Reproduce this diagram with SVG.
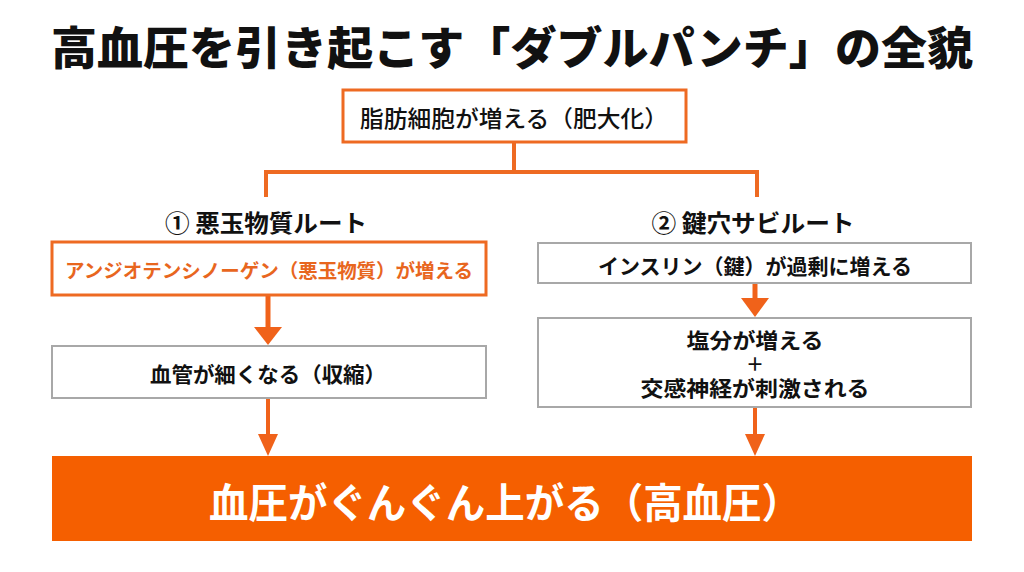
<svg xmlns="http://www.w3.org/2000/svg" width="1024" height="572" viewBox="0 0 1024 572">
<defs>
<style>
.t{font-family:"Noto Sans CJK JP","Noto Sans",sans-serif;text-anchor:middle;dominant-baseline:central}
.box{fill:#fff;stroke:#a8a8a8;stroke-width:2}
.obox{fill:#fff;stroke:#EE6A22;stroke-width:3}
.ln{stroke:#EE6A22;stroke-width:4;fill:none}
.ar{fill:#F0621A}
</style>
</defs>
<rect width="1024" height="572" fill="#fff"/>
<text class="t" x="512" y="45" font-size="45" font-weight="900" fill="#111" textLength="922" lengthAdjust="spacingAndGlyphs">高血圧を引き起こす「ダブルパンチ」の全貌</text>
<g id="connectors">
<path class="ln" d="M514,142 V172 M266,172 H757 M266,170 V197 M757,170 V197"/>
<path d="M268,295 V329" stroke="#F0621A" stroke-width="5"/>
<path class="ar" d="M254,327 H282 L268,345 Z"/>
<path d="M268,398 V438" stroke="#F0621A" stroke-width="4"/>
<path class="ar" d="M258,434 H278 L268,456 Z"/>
<path d="M755,283 V301" stroke="#F0621A" stroke-width="5"/>
<path class="ar" d="M741,298 H769 L755,317 Z"/>
<path d="M755,407 V438" stroke="#F0621A" stroke-width="4"/>
<path class="ar" d="M745,434 H765 L755,456 Z"/>
</g>
<g id="n-top">
<rect class="obox" x="343" y="90" width="343" height="52"/>
<text class="t" x="514" y="117" font-size="23" font-weight="500" fill="#111" textLength="308" lengthAdjust="spacingAndGlyphs">脂肪細胞が増える（肥大化）</text>
</g>
<g id="lbl-left"><text class="t" x="266" y="221" font-size="24" font-weight="700" fill="#111" textLength="202" lengthAdjust="spacingAndGlyphs">① 悪玉物質ルート</text></g>
<g id="lbl-right"><text class="t" x="753" y="221" font-size="24" font-weight="700" fill="#111" textLength="203" lengthAdjust="spacingAndGlyphs">② 鍵穴サビルート</text></g>
<g id="n-l1">
<rect class="obox" x="52" y="242" width="434" height="53"/>
<text class="t" x="269" y="269" font-size="19" font-weight="700" fill="#E8661E" textLength="408" lengthAdjust="spacingAndGlyphs">アンジオテンシノーゲン（悪玉物質）が増える</text>
</g>
<g id="n-l2">
<rect class="box" x="52" y="346" width="434" height="52"/>
<text class="t" x="268" y="373" font-size="21" font-weight="700" fill="#111" textLength="236" lengthAdjust="spacingAndGlyphs">血管が細くなる（収縮）</text>
</g>
<g id="n-r1">
<rect class="box" x="538" y="243" width="433" height="40"/>
<text class="t" x="755" y="265" font-size="21" font-weight="700" fill="#111" textLength="314" lengthAdjust="spacingAndGlyphs">インスリン（鍵）が過剰に増える</text>
</g>
<g id="n-r2">
<rect class="box" x="538" y="318" width="433" height="89"/>
<text class="t" x="755" y="339" font-size="21" font-weight="700" fill="#111" textLength="137" lengthAdjust="spacingAndGlyphs">塩分が増える</text>
<text class="t" x="755" y="363" font-size="18" font-weight="700" fill="#111">＋</text>
<text class="t" x="755" y="387" font-size="21" font-weight="700" fill="#111" textLength="229" lengthAdjust="spacingAndGlyphs">交感神経が刺激される</text>
</g>
<g id="n-bottom">
<rect x="52" y="456" width="920" height="85" fill="#F55F00"/>
<text class="t" x="505" y="500" font-size="41" font-weight="700" fill="#fff" textLength="592" lengthAdjust="spacingAndGlyphs">血圧がぐんぐん上がる（高血圧）</text>
</g>
</svg>
